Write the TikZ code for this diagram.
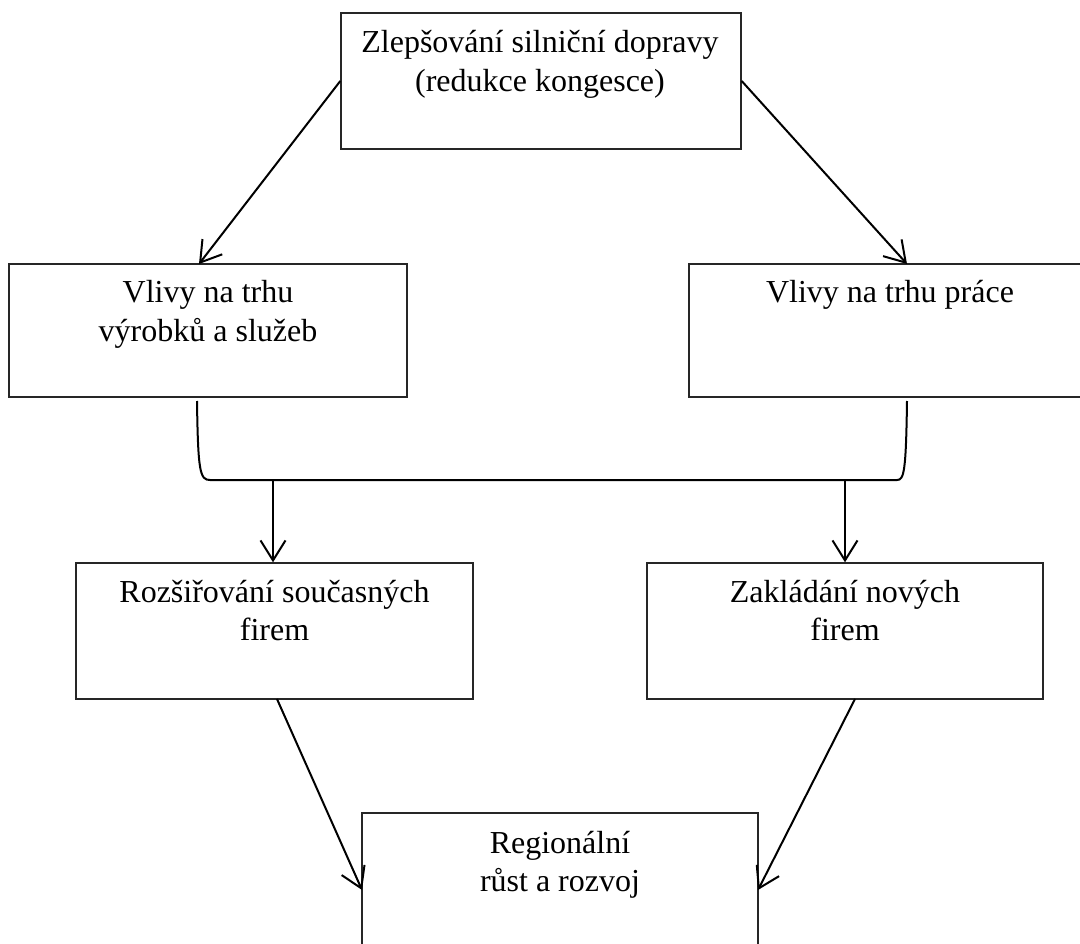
\documentclass[tikz,border=0pt]{standalone}
\usepackage{fontspec}
\setmainfont{Liberation Serif}
\usetikzlibrary{arrows.meta}
\begin{document}
\begin{tikzpicture}[x=1pt,y=-1pt,
  box/.style={draw=black!85, line width=1.4pt, inner sep=0pt, rectangle,
    minimum width=398pt},
  txt/.style={inner sep=0pt, anchor=base, font=\fontsize{32}{38.5}\selectfont},
  conn/.style={line width=2pt, black},
  arr/.style={conn, -{Straight Barb[length=20pt,width=25pt,line width=2pt]}}]
\useasboundingbox (0,0) rectangle (1080,944);
\clip (0,0) rectangle (1080,944);

% boxes (the right middle one runs past the right margin)
\node[box, minimum width=400pt, minimum height=136pt] (top) at (541,81) {};
\node[box, minimum height=133pt] (lm) at (208,330.5) {};
\node[box, minimum width=402pt, minimum height=133pt] (rm) at (890,330.5) {};
\node[box, minimum width=397pt, minimum height=136pt] (ll) at (274.5,631) {};
\node[box, minimum width=396pt, minimum height=136pt] (lr) at (845,631) {};
\node[box, minimum width=396pt, minimum height=188pt] (bot) at (560,907) {};

% box texts, first baseline near the top of each box
\node[txt] (topt) at (540,53) {\begin{tabular}[t]{@{}c@{}}Zlepšování silniční dopravy\\(redukce kongesce)\end{tabular}};
\node[txt] (lmt) at (208,303) {\begin{tabular}[t]{@{}c@{}}Vlivy na trhu\\výrobků a služeb\end{tabular}};
\node[txt] (rmt) at (890,303) {Vlivy na trhu práce};
\node[txt] (llt) at (274.5,602) {\begin{tabular}[t]{@{}c@{}}Rozšiřování současných\\firem\end{tabular}};
\node[txt] (lrt) at (845,602) {\begin{tabular}[t]{@{}c@{}}Zakládání nových\\firem\end{tabular}};
\node[txt] (bott) at (560,853) {\begin{tabular}[t]{@{}c@{}}Regionální\\růst a rozvoj\end{tabular}};

% connector points
\coordinate (tl) at (199,264);
\coordinate (tr) at (907,264);
\coordinate (bl) at (197,401);
\coordinate (br) at (907,401);
\coordinate (dl) at (273,480);
\coordinate (dr) at (845,480);
\coordinate (sl) at (277,699);
\coordinate (sr) at (855,699);
\coordinate (el) at (362,890);
\coordinate (er) at (758,890);

% arrows from the top box
\draw[arr] (top.west) -- (tl);
\draw[arr] (top.east) -- (tr);

% joining bracket under the two market boxes
\draw[conn] (bl) .. controls (198,472) and (200,480) .. (210,480)
  -- (897,480) .. controls (904,480) and (906,472) .. (br);

% arrows down to the firm boxes
\draw[arr] (dl) -- (dl |- ll.north);
\draw[arr] (dr) -- (dr |- lr.north);

% arrows to regional growth
\draw[arr] (sl) -- (el);
\draw[arr] (sr) -- (er);
\end{tikzpicture}
\end{document}
